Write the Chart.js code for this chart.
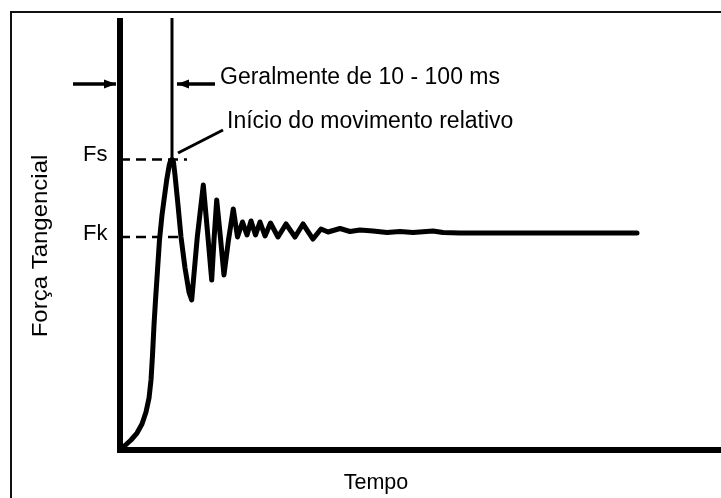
<!DOCTYPE html>
<html>
<head>
<meta charset="utf-8">
<script src="https://cdn.jsdelivr.net/npm/chart.js@4.4.1/dist/chart.umd.min.js"></script>
<style>
  html, body { margin: 0; padding: 0; background: #fff; }
  #c { display: block; }
</style>
</head>
<body>
<canvas id="c" width="721" height="498"></canvas>
<script>
// Tangential force vs. time during the onset of sliding (arbitrary units, 0-100 on each axis)
const timeValues = [
  0.17, 0.83, 1.83, 2.83, 3.66, 4.33, 4.83, 5.16, 5.41, 5.66, 5.91, 6.21, 6.57, 6.99, 7.32, 7.77, 8.20, 8.40, 8.65, 8.90,
  9.15, 9.65, 10.15, 10.82, 11.48, 11.93,
  12.86, 13.86, 14.56, 15.26, 15.64, 16.09, 16.72, 17.30, 18.05, 18.85, 19.55,
  20.38, 21.13, 21.80, 22.55, 23.29, 24.13, 25.04, 26.29, 27.62, 29.12, 30.45, 32.11,
  33.44, 34.61, 36.61, 38.27, 39.93, 42.10, 44.43, 46.59, 48.75, 52.08, 53.74, 56.57, 86.02
];
const forceValues = [
  0.47, 1.05, 2.33, 3.96, 6.06, 8.86, 12.12, 16.32, 22.14, 29.14, 34.97, 41.26, 48.95, 54.78, 58.28, 62.94, 66.43, 67.40, 67.72, 67.10,
  64.1, 57.1, 49.65, 42.4, 36.8, 34.97,
  49.65, 61.77, 50.82, 39.63, 48.95, 58.28, 49.42, 40.79, 48.95, 56.18, 49.65,
  53.15, 50.12, 53.38, 50.12, 53.15, 49.88, 52.91, 49.65, 52.68, 49.65, 52.68, 49.18,
  51.52, 50.82, 51.63, 50.93, 51.28, 51.05, 50.70, 50.93, 50.70, 51.05, 50.70, 50.58, 50.58
];

// Reference levels: static (Fs) and kinetic (Fk) friction force
const FS = 67.72;
const FK = 49.65;
const fsDashSpan = [0, 11.15];
const fkDashSpan = [0, 10.32];

// Marker of the start of relative motion (vertical line through the Fs peak)
const onsetTime = 8.65;
const onsetTop = 100.7;

// Interval arrows (tail, tip) and their level
const arrowLevel = 85.31;
const leftArrowX = [-7.82, -0.67];
const rightArrowX = [15.81, 9.48];

// Leader line from the peak to its caption
const leaderX = [9.65, 17.14];
const leaderY = [69.23, 74.59];

const tickLabels = ['Fs', 'Fk'];
const FONT = '"Liberation Sans", Arial, sans-serif';

const pts = (xs, ys) => xs.map((x, i) => ({ x, y: ys[i] }));

const frameAndText = {
  id: 'frameAndText',
  beforeDraw(chart) {
    const ctx = chart.ctx;
    ctx.save();
    ctx.strokeStyle = '#111';
    ctx.lineWidth = 2;
    ctx.beginPath();
    ctx.moveTo(11, 498);
    ctx.lineTo(11, 12);
    ctx.lineTo(721, 12);
    ctx.stroke();
    ctx.restore();
  },
  afterDatasetsDraw(chart) {
    // arrowheads at the tip of each interval arrow
    const ctx = chart.ctx;
    ctx.save();
    ctx.fillStyle = '#000';
    chart.data.datasets.forEach((ds, i) => {
      if (!ds.arrow) return;
      const pts = chart.getDatasetMeta(i).data;
      const a = pts[0], b = pts[1];
      const ang = Math.atan2(b.y - a.y, b.x - a.x);
      const len = 12, half = 4.5;
      ctx.save();
      ctx.translate(b.x, b.y);
      ctx.rotate(ang);
      ctx.beginPath();
      ctx.moveTo(0, 0);
      ctx.lineTo(-len, -half);
      ctx.lineTo(-len, half);
      ctx.closePath();
      ctx.fill();
      ctx.restore();
    });
    ctx.restore();
  },
  afterDraw(chart) {
    const ctx = chart.ctx;
    const y = chart.scales.y;
    ctx.save();
    ctx.fillStyle = '#000';
    ctx.textBaseline = 'alphabetic';
    ctx.textAlign = 'left';

    ctx.font = '22px ' + FONT;
    ctx.fillText(tickLabels[0], 83, y.getPixelForValue(FS) + 1.5);
    ctx.fillText(tickLabels[1], 83, y.getPixelForValue(FK) + 2.5);

    ctx.font = '23px ' + FONT;
    ctx.fillText('Geralmente de 10 - 100 ms', 220, 83.5);
    ctx.fillText('Início do movimento relativo', 227, 127.5);

    ctx.font = '21.5px ' + FONT;
    ctx.textAlign = 'center';
    ctx.fillText('Tempo', 376, 489);

    // Vertical axis title
    ctx.translate(47, 246);
    ctx.rotate(-Math.PI / 2);
    ctx.scale(1.09, 1);
    ctx.font = '22px ' + FONT;
    ctx.fillText('Força Tangencial', 0, 0);
    ctx.restore();
  }
};

const lineStyle = (extra) => Object.assign({
  borderColor: '#000',
  backgroundColor: '#000',
  pointRadius: 0,
  tension: 0,
  clip: false,
  borderCapStyle: 'butt'
}, extra);

new Chart(document.getElementById('c'), {
  type: 'line',
  data: {
    datasets: [
      lineStyle({
        label: 'Força tangencial',
        data: pts(timeValues, forceValues),
        borderWidth: 5,
        borderJoinStyle: 'round',
        borderCapStyle: 'round'
      }),
      lineStyle({
        label: 'Fs',
        data: pts(fsDashSpan, [FS, FS]),
        borderWidth: 2.5,
        borderDash: [10, 6]
      }),
      lineStyle({
        label: 'Fk',
        data: pts(fkDashSpan, [FK, FK]),
        borderWidth: 2.5,
        borderDash: [10, 6]
      }),
      lineStyle({
        label: 'onset',
        data: pts([onsetTime, onsetTime], [FS, onsetTop]),
        borderWidth: 3
      }),
      lineStyle({
        label: 'arrow left',
        arrow: true,
        data: pts(leftArrowX, [arrowLevel, arrowLevel]),
        borderWidth: 3.5
      }),
      lineStyle({
        label: 'arrow right',
        arrow: true,
        data: pts(rightArrowX, [arrowLevel, arrowLevel]),
        borderWidth: 3.5
      }),
      lineStyle({
        label: 'leader',
        data: pts(leaderX, leaderY),
        borderWidth: 3
      })
    ]
  },
  options: {
    responsive: false,
    animation: false,
    devicePixelRatio: 1,
    events: [],
    layout: { padding: { left: 120, top: 21, right: -6, bottom: 48 } },
    plugins: { legend: { display: false }, tooltip: { enabled: false } },
    scales: {
      x: {
        type: 'linear', min: 0, max: 100,
        grid: { display: false, drawTicks: false },
        ticks: { display: false },
        border: { display: true, width: 6, color: '#000' },
        afterFit: (s) => { s.height = 0; }
      },
      y: {
        type: 'linear', min: 0, max: 100,
        grid: { display: false, drawTicks: false },
        ticks: { display: false },
        border: { display: true, width: 6, color: '#000' },
        afterFit: (s) => { s.width = 0; }
      }
    }
  },
  plugins: [frameAndText]
});
</script>
</body>
</html>
